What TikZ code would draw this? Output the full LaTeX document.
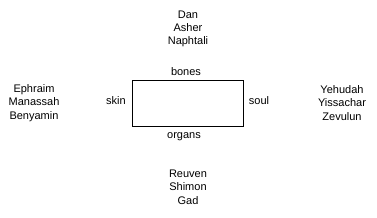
\documentclass[tikz,border=0pt]{standalone}
\usepackage{fontspec}
\setmainfont{Liberation Sans}
\begin{document}
\begin{tikzpicture}[x=1pt,y=-1pt,
  lbl/.style={inner sep=0pt,align=center,font=\fontsize{11}{13.3}\selectfont}]
\useasboundingbox (0,0) rectangle (377,217);
\node[draw,line width=0.9pt,minimum width=111pt,minimum height=46pt,inner sep=0pt] (box) at (188,103) {};
\node[lbl] (north) at (188,29) {Dan\\Asher\\Naphtali};
\node[lbl] (south) at (188,187) {Reuven\\Shimon\\Gad};
\node[lbl] (west) at (34,103) {Ephraim\\Manassah\\Benyamin};
\node[lbl] (east) at (342,103) {Yehudah\\Yissachar\\Zevulun};
\node[lbl] (bones) at (186,72) {bones};
\node[lbl] (organs) at (184,137) {organs};
\node[lbl] (skin) at (116,101) {skin};
\node[lbl] (soul) at (259,101) {soul};
\end{tikzpicture}
\end{document}
